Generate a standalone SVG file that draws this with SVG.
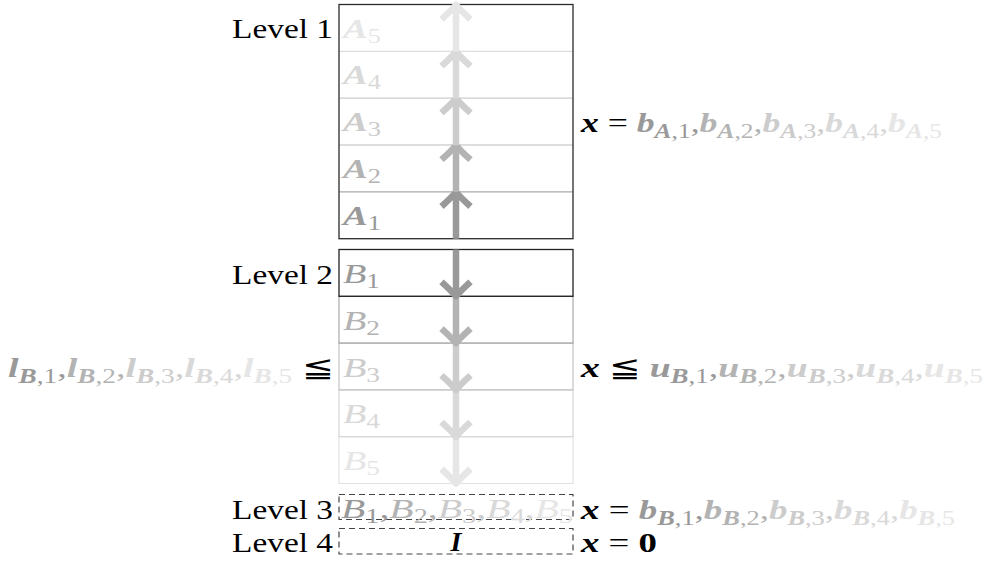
<svg xmlns="http://www.w3.org/2000/svg" width="987" height="574" viewBox="0 0 987 574">
<style>
text{font-family:"Liberation Serif","DejaVu Serif",serif;font-size:28px;fill:#000}
.bi{font-weight:bold;font-style:italic}
.it{font-style:italic}
.s{font-size:20px}
.c1{fill:#999999}.c2{fill:#b3b3b3}.c3{fill:#cccccc}.c4{fill:#d9d9d9}.c5{fill:#e6e6e6}
.ar{fill:none;stroke-width:6.5;stroke-linejoin:round}
.ar .hd{stroke-linecap:round}
.k1{stroke:#999999}.k2{stroke:#b3b3b3}.k3{stroke:#cccccc}.k4{stroke:#d9d9d9}.k5{stroke:#e6e6e6}
.dash{fill:none;stroke:#444;stroke-width:1.2;stroke-dasharray:6 4}
.lbl{text-anchor:end}
</style>
<defs>
<g id="up"><path d="M0,46.8 L0,1.5"/><path class="hd" d="M-14.5,14.5 Q-4,5 0,0 Q4,5 14.5,14.5"/></g>
<g id="dn"><path d="M0,0 L0,45.3"/><path class="hd" d="M-14.5,32.3 Q-4,41.8 0,46.8 Q4,41.8 14.5,32.3"/></g>
</defs>

<g id="level1">
<text class="lbl" x="333" y="38" textLength="101" lengthAdjust="spacingAndGlyphs">Level 1</text>
<line x1="339" y1="51.3" x2="573" y2="51.3" stroke="#dddddd" stroke-width="1.2"/>
<line x1="339" y1="98.2" x2="573" y2="98.2" stroke="#cccccc" stroke-width="1.2"/>
<line x1="339" y1="145" x2="573" y2="145" stroke="#bbbbbb" stroke-width="1.2"/>
<line x1="339" y1="191.9" x2="573" y2="191.9" stroke="#aaaaaa" stroke-width="1.2"/>
<rect x="339" y="4.5" width="234" height="234.2" fill="none" stroke="#2a2a2a" stroke-width="1.3"/>
<text x="343" y="37.5" class="c5" textLength="38" lengthAdjust="spacingAndGlyphs"><tspan class="bi">A</tspan><tspan class="s" dy="5">5</tspan></text>
<text x="343" y="84.3" class="c4" textLength="38" lengthAdjust="spacingAndGlyphs"><tspan class="bi">A</tspan><tspan class="s" dy="5">4</tspan></text>
<text x="343" y="131.2" class="c3" textLength="38" lengthAdjust="spacingAndGlyphs"><tspan class="bi">A</tspan><tspan class="s" dy="5">3</tspan></text>
<text x="343" y="178" class="c2" textLength="38" lengthAdjust="spacingAndGlyphs"><tspan class="bi">A</tspan><tspan class="s" dy="5">2</tspan></text>
<text x="343" y="224.9" class="c1" textLength="38" lengthAdjust="spacingAndGlyphs"><tspan class="bi">A</tspan><tspan class="s" dy="5">1</tspan></text>
</g>

<g id="level2">
<text class="lbl" x="333" y="284" textLength="101" lengthAdjust="spacingAndGlyphs">Level 2</text>
<rect x="339" y="436.7" width="234" height="46.8" fill="none" stroke="#e3e3e3" stroke-width="1.2"/>
<rect x="339" y="389.9" width="234" height="46.8" fill="none" stroke="#d6d6d6" stroke-width="1.2"/>
<rect x="339" y="343.1" width="234" height="46.8" fill="none" stroke="#c4c4c4" stroke-width="1.2"/>
<rect x="339" y="296.3" width="234" height="46.8" fill="none" stroke="#aaaaaa" stroke-width="1.2"/>
<rect x="339" y="249.5" width="234" height="46.8" fill="none" stroke="#222" stroke-width="1.3"/>
<text x="343" y="283" class="c1" textLength="37" lengthAdjust="spacingAndGlyphs"><tspan class="it">B</tspan><tspan class="s" dy="5">1</tspan></text>
<text x="343" y="329.8" class="c2" textLength="37" lengthAdjust="spacingAndGlyphs"><tspan class="it">B</tspan><tspan class="s" dy="5">2</tspan></text>
<text x="343" y="376.6" class="c3" textLength="37" lengthAdjust="spacingAndGlyphs"><tspan class="it">B</tspan><tspan class="s" dy="5">3</tspan></text>
<text x="343" y="423.4" class="c4" textLength="37" lengthAdjust="spacingAndGlyphs"><tspan class="it">B</tspan><tspan class="s" dy="5">4</tspan></text>
<text x="343" y="470.2" class="c5" textLength="37" lengthAdjust="spacingAndGlyphs"><tspan class="it">B</tspan><tspan class="s" dy="5">5</tspan></text>
</g>

<g id="level3">
<text class="lbl" x="333" y="519" textLength="101" lengthAdjust="spacingAndGlyphs">Level 3</text>
<rect class="dash" x="339" y="494.5" width="234" height="25"/>
<text x="341" y="518" textLength="232" lengthAdjust="spacingAndGlyphs"><tspan class="it c1">B</tspan><tspan class="s c1" dy="5">1</tspan><tspan class="c1" dy="-5">,</tspan><tspan class="it c2">B</tspan><tspan class="s c2" dy="5">2</tspan><tspan class="c2" dy="-5">,</tspan><tspan class="it c3">B</tspan><tspan class="s c3" dy="5">3</tspan><tspan class="c3" dy="-5">,</tspan><tspan class="it c4">B</tspan><tspan class="s c4" dy="5">4</tspan><tspan class="c4" dy="-5">,</tspan><tspan class="it c5">B</tspan><tspan class="s c5" dy="5">5</tspan></text>
</g>

<g id="level4">
<text class="lbl" x="333" y="552" textLength="101" lengthAdjust="spacingAndGlyphs">Level 4</text>
<rect class="dash" x="339" y="528.5" width="234" height="25.5"/>
<text x="456" y="551" class="bi" text-anchor="middle">I</text>
</g>

<g id="connectors">
<use href="#up" class="ar k1" x="456" y="192"/>
<use href="#up" class="ar k2" x="456" y="145.2"/>
<use href="#up" class="ar k3" x="456" y="98.4"/>
<use href="#up" class="ar k4" x="456" y="51.6"/>
<use href="#up" class="ar k5" x="456" y="4.8"/>
<use href="#dn" class="ar k5" x="456" y="436.7"/>
<use href="#dn" class="ar k4" x="456" y="389.9"/>
<use href="#dn" class="ar k3" x="456" y="343.1"/>
<use href="#dn" class="ar k2" x="456" y="296.3"/>
<use href="#dn" class="ar k1" x="456" y="249.5"/>
</g>

<g id="eq1">
<text x="581" y="132" textLength="361" lengthAdjust="spacingAndGlyphs"><tspan class="bi">x</tspan> = <tspan class="bi c1">b</tspan><tspan class="s bi c1" dy="6">A</tspan><tspan class="s c1">,1</tspan><tspan class="c1" dy="-6">,</tspan><tspan class="bi c2">b</tspan><tspan class="s bi c2" dy="6">A</tspan><tspan class="s c2">,2</tspan><tspan class="c2" dy="-6">,</tspan><tspan class="bi c3">b</tspan><tspan class="s bi c3" dy="6">A</tspan><tspan class="s c3">,3</tspan><tspan class="c3" dy="-6">,</tspan><tspan class="bi c4">b</tspan><tspan class="s bi c4" dy="6">A</tspan><tspan class="s c4">,4</tspan><tspan class="c4" dy="-6">,</tspan><tspan class="bi c5">b</tspan><tspan class="s bi c5" dy="6">A</tspan><tspan class="s c5">,5</tspan></text>
</g>

<g id="eq2">
<text x="333" y="377" text-anchor="end" textLength="325" lengthAdjust="spacingAndGlyphs"><tspan class="bi c1">l</tspan><tspan class="s bi c1" dy="6">B</tspan><tspan class="s c1">,1</tspan><tspan class="c1" dy="-6">,</tspan><tspan class="bi c2">l</tspan><tspan class="s bi c2" dy="6">B</tspan><tspan class="s c2">,2</tspan><tspan class="c2" dy="-6">,</tspan><tspan class="bi c3">l</tspan><tspan class="s bi c3" dy="6">B</tspan><tspan class="s c3">,3</tspan><tspan class="c3" dy="-6">,</tspan><tspan class="bi c4">l</tspan><tspan class="s bi c4" dy="6">B</tspan><tspan class="s c4">,4</tspan><tspan class="c4" dy="-6">,</tspan><tspan class="bi c5">l</tspan><tspan class="s bi c5" dy="6">B</tspan><tspan class="s c5">,5</tspan><tspan dy="-6"> ≦</tspan></text>
<text x="581" y="377" textLength="402" lengthAdjust="spacingAndGlyphs"><tspan class="bi">x</tspan> ≦ <tspan class="bi c1">u</tspan><tspan class="s bi c1" dy="6">B</tspan><tspan class="s c1">,1</tspan><tspan class="c1" dy="-6">,</tspan><tspan class="bi c2">u</tspan><tspan class="s bi c2" dy="6">B</tspan><tspan class="s c2">,2</tspan><tspan class="c2" dy="-6">,</tspan><tspan class="bi c3">u</tspan><tspan class="s bi c3" dy="6">B</tspan><tspan class="s c3">,3</tspan><tspan class="c3" dy="-6">,</tspan><tspan class="bi c4">u</tspan><tspan class="s bi c4" dy="6">B</tspan><tspan class="s c4">,4</tspan><tspan class="c4" dy="-6">,</tspan><tspan class="bi c5">u</tspan><tspan class="s bi c5" dy="6">B</tspan><tspan class="s c5">,5</tspan></text>
</g>

<g id="eq3">
<text x="581" y="519" textLength="374" lengthAdjust="spacingAndGlyphs"><tspan class="bi">x</tspan> = <tspan class="bi c1">b</tspan><tspan class="s bi c1" dy="6">B</tspan><tspan class="s c1">,1</tspan><tspan class="c1" dy="-6">,</tspan><tspan class="bi c2">b</tspan><tspan class="s bi c2" dy="6">B</tspan><tspan class="s c2">,2</tspan><tspan class="c2" dy="-6">,</tspan><tspan class="bi c3">b</tspan><tspan class="s bi c3" dy="6">B</tspan><tspan class="s c3">,3</tspan><tspan class="c3" dy="-6">,</tspan><tspan class="bi c4">b</tspan><tspan class="s bi c4" dy="6">B</tspan><tspan class="s c4">,4</tspan><tspan class="c4" dy="-6">,</tspan><tspan class="bi c5">b</tspan><tspan class="s bi c5" dy="6">B</tspan><tspan class="s c5">,5</tspan></text>
</g>

<g id="eq4">
<text x="581" y="552" textLength="76" lengthAdjust="spacingAndGlyphs"><tspan class="bi">x</tspan> = <tspan font-weight="bold">0</tspan></text>
</g>
</svg>
